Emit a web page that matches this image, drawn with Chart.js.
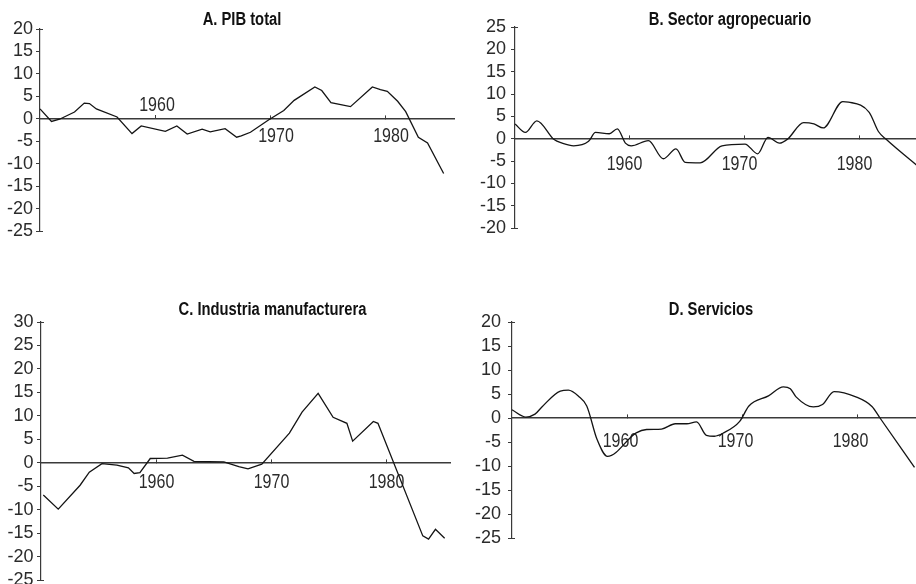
<!DOCTYPE html>
<html><head><meta charset="utf-8">
<script src="https://cdn.jsdelivr.net/npm/chart.js@4.4.1/dist/chart.umd.min.js"></script>
<style>
html,body{margin:0;padding:0;width:916px;height:584px;overflow:hidden;background:#fff;}
canvas{position:absolute;}
</style></head><body>
<canvas id="cA"></canvas><canvas id="cB"></canvas><canvas id="cC"></canvas><canvas id="cD"></canvas>
<script>
// ---------- DATA ----------
const yearTicks = [1960, 1970, 1980];

const titleA = 'A. PIB total';
const yearsA = [1950.0, 1951.0, 1951.7, 1953.0, 1953.85, 1954.3, 1954.9, 1956.7, 1958.0, 1958.8, 1960.9, 1961.9, 1962.8, 1964.1, 1964.8, 1966.1, 1967.1, 1967.5, 1968.3, 1969.9, 1971.2, 1972.1, 1973.9, 1974.5, 1975.3, 1977.0, 1978.9, 1979.6, 1980.2, 1981.1, 1981.8, 1982.9, 1983.7, 1985.1];
const valuesA = [2.2, -0.6, -0.1, 1.5, 3.5, 3.4, 2.2, 0.4, -3.3, -1.6, -2.8, -1.6, -3.4, -2.3, -2.9, -2.2, -4.1, -3.8, -3.0, -0.2, 1.85, 4.1, 7.1, 6.3, 3.6, 2.7, 7.1, 6.5, 6.1, 3.9, 1.6, -4.1, -5.4, -12.2];
const yTicksA = [-25, -20, -15, -10, -5, 0, 5, 10, 15, 20];

const titleB = 'B. Sector agropecuario';
const yearsB = [1950.0, 1950.9, 1951.9, 1953.4, 1954.1, 1955.1, 1956.4, 1957.0, 1958.2, 1958.9, 1959.6, 1960.1, 1961.6, 1962.9, 1964.0, 1964.8, 1966.1, 1968.0, 1970.0, 1971.1, 1972.0, 1973.0, 1973.7, 1975.1, 1976.0, 1976.8, 1978.5, 1979.0, 1980.8, 1981.6, 1982.3, 1985.0];
const valuesB = [3.3, 1.4, 4.0, -0.2, -1.0, -1.6, -0.6, 1.4, 1.1, 2.2, -1.0, -1.6, -0.45, -4.5, -2.3, -5.3, -5.4, -1.6, -1.2, -3.4, 0.3, -1.0, -0.1, 3.6, 3.3, 2.4, 8.3, 8.2, 5.9, 1.6, -0.2, -6.1];
const yTicksB = [-20, -15, -10, -5, 0, 5, 10, 15, 20, 25];

const titleC = 'C. Industria manufacturera';
const yearsC = [1950.2, 1951.5, 1953.4, 1954.2, 1955.3, 1956.6, 1957.6, 1958.1, 1958.6, 1959.5, 1961.0, 1962.3, 1963.3, 1965.9, 1967.2, 1968.0, 1969.2, 1971.6, 1972.7, 1974.1, 1975.4, 1976.6, 1977.1, 1978.9, 1979.3, 1983.2, 1983.7, 1984.3, 1985.1];
const valuesC = [-6.9, -9.9, -4.8, -2.0, -0.2, -0.5, -1.1, -2.3, -2.1, 0.9, 1.0, 1.6, 0.3, 0.2, -0.85, -1.3, -0.3, 6.3, 10.8, 14.8, 9.7, 8.4, 4.6, 8.8, 8.4, -15.6, -16.3, -14.2, -16.1];
const yTicksC = [-25, -20, -15, -10, -5, 0, 5, 10, 15, 20, 25, 30];

const titleD = 'D. Servicios';
const yearsD = [1950.0, 1951.2, 1952.0, 1952.6, 1954.2, 1954.9, 1955.8, 1956.5, 1957.4, 1958.3, 1960.8, 1961.7, 1963.0, 1964.2, 1965.2, 1966.05, 1966.9, 1967.6, 1968.4, 1969.8, 1970.6, 1972.3, 1973.6, 1974.2, 1974.7, 1976.2, 1977.0, 1978.0, 1979.9, 1981.3, 1982.0, 1985.0];
const valuesD = [1.7, 0.2, 0.8, 2.3, 5.6, 5.8, 4.5, 2.5, -4.5, -8.0, -3.1, -2.4, -2.3, -1.2, -1.2, -0.8, -3.6, -3.8, -3.1, -0.7, 2.5, 4.6, 6.5, 6.1, 4.4, 2.3, 2.8, 5.5, 4.4, 2.4, 0.0, -10.3];
const yTicksD = [-25, -20, -15, -10, -5, 0, 5, 10, 15, 20];

// ---------- LAYOUT / STYLE ----------
const FONT = "'Liberation Sans', Arial, sans-serif";
const NARROW = 0.82;               // horizontal condensing of year labels and titles (Arial Narrow look)
const INK = '#141414', AXIS = '#3a3a3a', TXT = '#2b2b2b';
const XTICK_SIZE = 19.5, YTICK_SIZE = 18, TITLE_SIZE = 18;

const panels = [
  {id:'cA', title:titleA, years:yearsA, values:valuesA, yTicks:yTicksA, yMin:-25, yMax:20,
   cLeft:0, cTop:0, labL:4, area:{left:40, right:454, top:29, bottom:231}, xMax:1986.0,
   tCx:242, tCy:20.5, xCy:17.5, xOff:6, yPad:3, smooth:false, above:[1960], aboveCy:-13, aboveOff:2},
  {id:'cB', title:titleB, years:yearsB, values:valuesB, yTicks:yTicksB, yMin:-20, yMax:25,
   cLeft:470, cTop:0, labL:474, area:{left:515, right:916, top:27, bottom:228}, xMax:1984.87,
   tCx:730, tCy:20.5, xCy:26, xOff:-5.5, yPad:5, smooth:true, above:[]},
  {id:'cC', title:titleC, years:yearsC, values:valuesC, yTicks:yTicksC, yMin:-25, yMax:30,
   cLeft:0, cTop:290, labL:4, area:{left:41, right:450, top:322, bottom:580}, xMax:1985.565,
   tCx:272.5, tCy:310.5, xCy:19.8, xOff:0.5, yPad:3.5, smooth:false, above:[]},
  {id:'cD', title:titleD, years:yearsD, values:valuesD, yTicks:yTicksD, yMin:-25, yMax:20,
   cLeft:470, cTop:290, labL:474, area:{left:512, right:916, top:322, bottom:540}, xMax:1985.13,
   tCx:711, tCy:310.5, xCy:23.4, xOff:-6.5, yPad:7, smooth:true, above:[]}
];

// condense year labels and titles; value-axis labels (plain 18px) keep normal width
const narrowText = {
  id:'narrowText',
  afterInit(chart){
    const ctx = chart.ctx, orig = ctx.fillText;
    ctx.fillText = function(t, x, y, m){
      const f = this.font;
      const plain = f.indexOf(YTICK_SIZE + 'px') >= 0 && f.indexOf('bold') < 0;
      if (plain) { return (m === undefined) ? orig.call(this, t, x, y) : orig.call(this, t, x, y, m); }
      this.save(); this.translate(x, y); this.scale(NARROW, 1);
      if (m === undefined) orig.call(this, t, 0, 0); else orig.call(this, t, 0, 0, m / NARROW);
      this.restore();
    };
  }
};

function build(p){
  const cv = document.getElementById(p.id);
  const a = p.area;
  const s = p.labL;                                   // left edge of y-axis box
  const wr = Math.max(0, 2*p.tCx - a.right - s);      // right spacer so the title centres correctly
  const W = Math.round(a.right + wr - p.cLeft);
  const padBottom = 14;
  const H = Math.round(a.bottom + padBottom - p.cTop);
  cv.width = W; cv.height = H;
  cv.style.left = p.cLeft + 'px'; cv.style.top = p.cTop + 'px';
  cv.style.width = W + 'px'; cv.style.height = H + 'px';
  const tPadTop = p.tCy - TITLE_SIZE/2 - p.cTop;
  const tPadBottom = a.top - p.cTop - tPadTop - TITLE_SIZE;
  const xFont = {family: FONT, size: XTICK_SIZE, lineHeight: 1};
  const yFont = {family: FONT, size: YTICK_SIZE, lineHeight: 1};
  const TL = -4;   // tick marks pointing up from the zero line
  const xPad = p.xCy - TL - XTICK_SIZE/2;

  const scales = {
    x: {type:'linear', position:{y:0}, min:1950, max:p.xMax,
        afterBuildTicks: sc => { sc.ticks = yearTicks.filter(v => !p.above.includes(v)).map(v => ({value:v})); },
        ticks:{callback: v => String(v), font:xFont, color:TXT, padding:xPad, labelOffset:p.xOff, autoSkip:false, maxRotation:0},
        grid:{display:true, drawOnChartArea:false, drawTicks:true, tickLength:TL, color:AXIS, lineWidth:1},
        border:{display:true, color:AXIS, width:1.4}},
    y: {type:'linear', position:'left', min:p.yMin, max:p.yMax,
        afterBuildTicks: sc => { sc.ticks = p.yTicks.map(v => ({value:v})); },
        afterFit: sc => { sc.width = a.left - s; },
        ticks:{callback: v => String(v), font:yFont, color:TXT, padding:p.yPad, autoSkip:false},
        grid:{display:true, drawOnChartArea:false, drawTicks:true, tickLength:4, color:AXIS, lineWidth:1},
        border:{display:true, color:AXIS, width:1.2}},
    // short inward ticks closing the top and bottom ends of the value axis
    yEnds: {type:'linear', axis:'y', position:{x:1950}, min:p.yMin, max:p.yMax,
        afterBuildTicks: sc => { sc.ticks = [p.yMin, p.yMax].map(v => ({value:v})); },
        ticks:{display:false},
        grid:{display:true, drawOnChartArea:false, drawTicks:true, tickLength:-3, color:AXIS, lineWidth:1},
        border:{display:false}}
  };
  if (p.above.length){
    scales.x2 = {type:'linear', axis:'x', position:{y:0}, min:1950, max:p.xMax,
        afterBuildTicks: sc => { sc.ticks = p.above.map(v => ({value:v})); },
        ticks:{callback: v => String(v), font:xFont, color:TXT, padding:p.aboveCy - TL - XTICK_SIZE/2, labelOffset:p.aboveOff, autoSkip:false, maxRotation:0},
        grid:{display:true, drawOnChartArea:false, drawTicks:true, tickLength:TL, color:AXIS, lineWidth:1},
        border:{display:false}};
  }
  if (wr > 0){
    scales.yr = {type:'linear', position:'right', display:true,
        afterFit: sc => { sc.width = wr; },
        ticks:{display:false}, grid:{display:false}, border:{display:false}};
  }

  new Chart(cv, {
    type:'line',
    data:{datasets:[{
      data: p.years.map((x,i) => ({x:x, y:p.values[i]})),
      borderColor: INK, borderWidth: 1.3, pointRadius: 0, fill: false,
      tension: p.smooth ? 0.4 : 0, cubicInterpolationMode: p.smooth ? 'monotone' : 'default',
      xAxisID:'x', yAxisID:'y'
    }]},
    options:{
      responsive:false, animation:false, devicePixelRatio:1,
      layout:{padding:{left:s - p.cLeft, right:0, top:0, bottom:padBottom}},
      plugins:{
        legend:{display:false}, tooltip:{enabled:false},
        title:{display:true, text:p.title, color:'#111', fullSize:true, align:'center',
               font:{family:FONT, size:TITLE_SIZE, weight:'bold', lineHeight:1},
               padding:{top:tPadTop, bottom:tPadBottom}}
      },
      scales: scales
    },
    plugins:[narrowText]
  });
}
panels.forEach(build);
</script>
</body></html>
